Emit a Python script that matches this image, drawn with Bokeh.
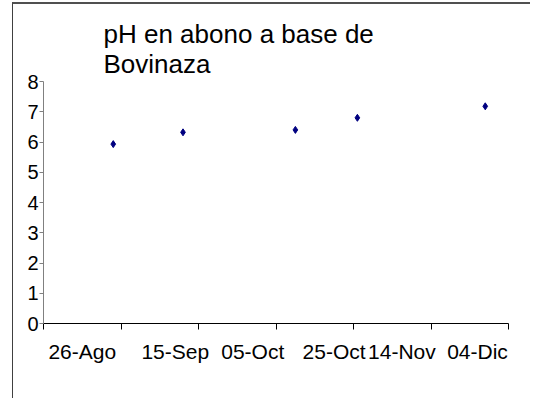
from bokeh.plotting import figure
from bokeh.models import Range1d, FixedTicker, Title
from bokeh.embed import file_html
from bokeh.resources import INLINE

# Data (days counted from 26-Ago)
sample_day = [18, 36, 65, 81, 114]
ph_values = [5.93, 6.32, 6.40, 6.80, 7.18]

# Axis ticks / labels
x_tick_days = [0, 20, 40, 60, 80, 100, 120]
x_label_days = [10, 34, 54, 75, 92.5, 112]
x_labels = ["26-Ago", "15-Sep", "05-Oct", "25-Oct", "14-Nov", "04-Dic"]
y_ticks = [0, 1, 2, 3, 4, 5, 6, 7, 8]

FONT = "Liberation Sans"

p = figure(width=518, height=396, output_backend="svg", toolbar_location=None,
           x_range=Range1d(0, 120), y_range=Range1d(0, 8),
           min_border_left=30, min_border_right=23, min_border_top=77,
           min_border_bottom=77, title=None,
           styles={"position": "relative", "top": "2px", "left": "12px",
                   "border-left": "1px solid #404040", "border-top": "2px solid #505050"})

p.background_fill_color = "white"
p.border_fill_color = "white"
p.outline_line_color = None
p.xgrid.grid_line_color = None
p.ygrid.grid_line_color = None

p.scatter(sample_day, ph_values, marker="diamond", size=7,
          fill_color="#000080", line_color="#000080")

t = Title(text="pH en abono a base de\nBovinaza", align="left", offset=60,
          text_font=FONT, text_font_size="26px", text_font_style="normal",
          text_color="black", standoff=5, text_line_height=1.0)
p.add_layout(t, "above")

# x axis
xa = p.xaxis[0]
xa.ticker = FixedTicker(ticks=x_label_days, minor_ticks=x_tick_days)
xa.major_label_overrides = {d: l for d, l in zip(x_label_days, x_labels)}
xa.major_tick_line_color = None
xa.major_tick_out = 0
xa.major_tick_in = 0
xa.minor_tick_line_color = "black"
xa.minor_tick_out = 6
xa.minor_tick_in = 0
xa.axis_line_color = "black"
xa.major_label_standoff = 10
xa.major_label_text_font = FONT
xa.major_label_text_font_size = "21px"
xa.major_label_text_color = "black"

# y axis
ya = p.yaxis[0]
ya.ticker = FixedTicker(ticks=y_ticks, minor_ticks=[])
ya.axis_line_color = "#808080"
ya.major_tick_line_color = "#808080"
ya.major_tick_out = 4
ya.major_tick_in = 0
ya.minor_tick_line_color = None
ya.major_label_standoff = 1
ya.major_label_text_font = FONT
ya.major_label_text_font_size = "20px"
ya.major_label_text_color = "black"

open("out.html", "w").write(file_html(p, INLINE))
